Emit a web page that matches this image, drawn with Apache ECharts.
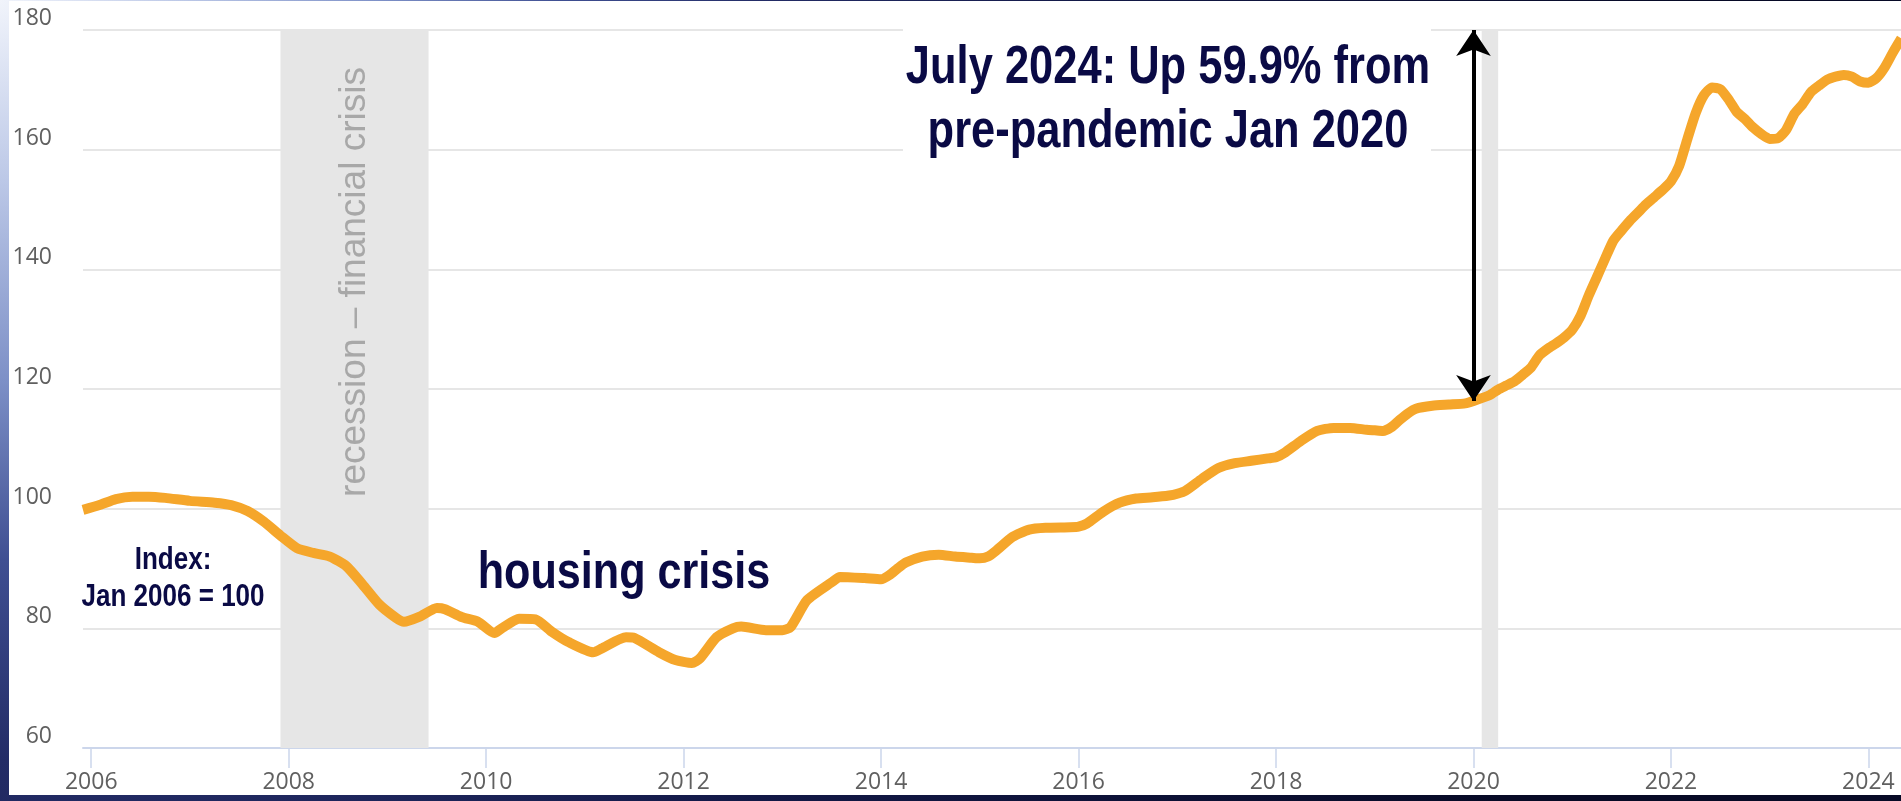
<!DOCTYPE html>
<html>
<head>
<meta charset="utf-8">
<title>Home price index since 2006</title>
<script src="https://cdn.jsdelivr.net/npm/echarts@6/dist/echarts.min.js"></script>
<style>
  html, body { margin: 0; padding: 0; width: 1901px; height: 801px; overflow: hidden; }
  body {
    background: radial-gradient(circle at 0 0,
      #f1f4fb 0px, #bcc8e7 180px, #7d90c7 380px, #3f4f92 560px,
      #232c66 760px, #121846 1100px, #070a26 1700px);
  }
  #chart { position: absolute; left: 9px; top: 1px; width: 1892px; height: 794px; background: #fff; }
</style>
</head>
<body>
<div id="chart"></div>
<script>
// Monthly index readings, Jan 2006 = 100
const months = [
  "2005-12","2006-02","2006-04","2006-06","2006-08","2006-10",
  "2007-01","2007-04","2007-06","2007-08","2007-10","2007-12",
  "2008-02","2008-04","2008-06","2008-08","2008-10","2008-12",
  "2009-02","2009-03","2009-05","2009-07","2009-08","2009-10","2009-12",
  "2010-02","2010-03","2010-05","2010-07","2010-09","2010-11",
  "2011-02","2011-03","2011-06","2011-07","2011-10","2011-12",
  "2012-02","2012-03","2012-05","2012-07","2012-08","2012-11",
  "2013-01","2013-02","2013-04","2013-07","2013-08","2013-11",
  "2014-01","2014-02","2014-03","2014-04","2014-06","2014-08","2014-10","2014-12",
  "2015-01","2015-02","2015-03","2015-05","2015-07","2015-09","2015-12",
  "2016-01","2016-02","2016-04","2016-06","2016-08","2016-10","2016-12",
  "2017-01","2017-02","2017-04","2017-06","2017-08","2017-10","2017-12",
  "2018-01","2018-02","2018-04","2018-06","2018-08","2018-10","2018-12",
  "2019-01","2019-02","2019-03","2019-04","2019-05","2019-06","2019-08","2019-10","2019-12",
  "2020-01","2020-03","2020-04","2020-05","2020-06","2020-07","2020-08","2020-09","2020-10","2020-11","2020-12",
  "2021-01","2021-02","2021-03","2021-04","2021-05","2021-06","2021-07","2021-08","2021-09","2021-10","2021-11","2021-12",
  "2022-01","2022-02","2022-03","2022-04","2022-05","2022-06","2022-07","2022-08","2022-09","2022-10","2022-11","2022-12",
  "2023-01","2023-02","2023-03","2023-04","2023-05","2023-06","2023-07","2023-08","2023-09","2023-10","2023-11","2023-12",
  "2024-01","2024-02","2024-03","2024-04","2024-05"
];
const values = [
  99.8, 100.6, 101.6, 102.0, 102.0, 101.8,
  101.3, 101.0, 100.6, 99.6, 97.8, 95.5,
  93.4, 92.6, 92.0, 90.4, 87.3, 84.0,
  81.8, 81.1, 82.0, 83.4, 83.2, 81.9, 81.1,
  79.2, 80.1, 81.6, 81.5, 79.4, 77.7,
  76.0, 76.6, 78.5, 78.4, 76.0, 74.7,
  74.2, 75.0, 78.5, 80.0, 80.3, 79.7,
  79.7, 80.2, 84.7, 87.7, 88.6, 88.4,
  88.2, 88.9, 90.0, 91.0, 92.0, 92.3, 92.0, 91.8,
  91.7, 92.0, 93.0, 95.3, 96.5, 96.8, 96.9,
  97.0, 97.5, 99.5, 101.0, 101.7, 101.9, 102.2,
  102.5, 103.0, 105.0, 106.8, 107.6, 108.0, 108.4,
  108.6, 109.3, 111.3, 113.0, 113.5, 113.5, 113.2,
  113.1, 113.0, 113.6, 114.8, 115.9, 116.7, 117.2, 117.4, 117.6,
  118.0, 119.0, 119.9, 120.6, 121.3, 122.4, 123.6, 125.6, 126.7, 127.6, 128.6,
  129.9, 132.2, 135.6, 138.7, 141.8, 144.8, 146.5, 148.1, 149.5, 150.9, 152.1, 153.3,
  154.7, 157.3, 161.8, 166.1, 169.1, 170.4, 170.1, 168.4, 166.3, 165.1, 163.7, 162.6,
  161.8, 161.9, 163.3, 166.0, 167.6, 169.6, 170.7, 171.7, 172.2, 172.5, 172.2, 171.4,
  171.2, 172.0, 173.8, 176.3, 178.6
];
const yearTicks = [2006, 2008, 2010, 2012, 2014, 2016, 2018, 2020, 2022, 2024];
const recessions = [
  { from: "2007-12", to: "2009-06", label: "recession \u2013 financial crisis" },
  { from: "2020-02", to: "2020-04", label: "" }
];
const baseMonth = "2020-01";

// "YYYY-MM" -> decimal year at the start of that month
function toYear(s) {
  const p = s.split("-").map(Number);
  return p[0] + (p[1] - 1) / 12;
}

const points = months.map((m, i) => [toYear(m), values[i]]);
const baseValue = values[months.indexOf(baseMonth)];

const boldFont = '"Liberation Sans", Arial, sans-serif';
const navy = "#0a0a45";

const chart = echarts.init(document.getElementById("chart"), null, { renderer: "canvas" });
chart.setOption({
  animation: false,
  grid: { left: 74, right: 0, top: 29, bottom: 47, outerBoundsMode: "none" },
  xAxis: {
    type: "value",
    min: toYear(months[0]),
    max: 2024.33,
    axisLine: { show: true, lineStyle: { color: "#ccd6eb", width: 2 } },
    axisTick: { show: true, length: 20, lineStyle: { color: "#ccd6eb", width: 1.5 }, customValues: yearTicks },
    axisLabel: {
      customValues: yearTicks,
      formatter: v => String(Math.round(v)),
      color: "#606060", fontSize: 23, fontFamily: "Open Sans", margin: 23
    },
    splitLine: { show: false }
  },
  yAxis: {
    type: "value",
    min: 60, max: 180, interval: 20,
    axisLine: { show: false },
    axisTick: { show: false },
    axisLabel: {
      color: "#606060", fontSize: 23, fontFamily: "Open Sans", margin: 31,
      verticalAlign: "bottom", lineHeight: 23
    },
    splitLine: { lineStyle: { color: "#e6e6e6", width: 2 } }
  },
  series: [{
    type: "line",
    data: points,
    symbol: "none",
    smooth: 0.2,
    z: 3,
    lineStyle: { color: "#f5a62b", width: 10, cap: "butt", join: "round" },
    emphasis: { disabled: true },
    markArea: {
      silent: true,
      itemStyle: { color: "#e6e6e6" },
      label: {
        show: true,
        position: ["50%", 252],
        rotate: 90,
        align: "center",
        verticalAlign: "middle",
        color: "#a8a8a8",
        fontSize: 37,
        fontFamily: "Liberation Sans"
      },
      data: recessions.map(r => [{ xAxis: toYear(r.from), name: r.label }, { xAxis: toYear(r.to) }])
    },
    markLine: {
      silent: true,
      symbol: ["arrow", "arrow"],
      symbolSize: [26, 26],
      lineStyle: { color: "#000000", width: 4, type: "solid" },
      label: { show: false },
      emphasis: { disabled: true },
      data: [[
        { coord: [toYear(baseMonth), baseValue] },
        { coord: [toYear(baseMonth), 180] }
      ]]
    }
  }],
  graphic: [
    {
      type: "rect", z: 50, silent: true,
      shape: { x: 894, y: 21, width: 528, height: 138 },
      style: { fill: "#ffffff" }
    },
    {
      type: "text", z: 51, silent: true, x: 1159, y: 99, scaleX: 0.805,
      style: {
        text: "July 2024: Up 59.9% from\npre-pandemic Jan 2020",
        fill: navy, fontWeight: "bold", fontSize: 54, fontFamily: boldFont,
        align: "center", verticalAlign: "middle", lineHeight: 64
      }
    },
    {
      type: "text", z: 51, silent: true, x: 164, y: 578, scaleX: 0.84,
      style: {
        text: "Index:\nJan 2006 = 100",
        fill: navy, fontWeight: "bold", fontSize: 31, fontFamily: boldFont,
        align: "center", verticalAlign: "middle", lineHeight: 37
      }
    },
    {
      type: "text", z: 51, silent: true, x: 615, y: 573, scaleX: 0.83,
      style: {
        text: "housing crisis",
        fill: navy, fontWeight: "bold", fontSize: 52, fontFamily: boldFont,
        align: "center", verticalAlign: "middle"
      }
    }
  ]
});
</script>
</body>
</html>
